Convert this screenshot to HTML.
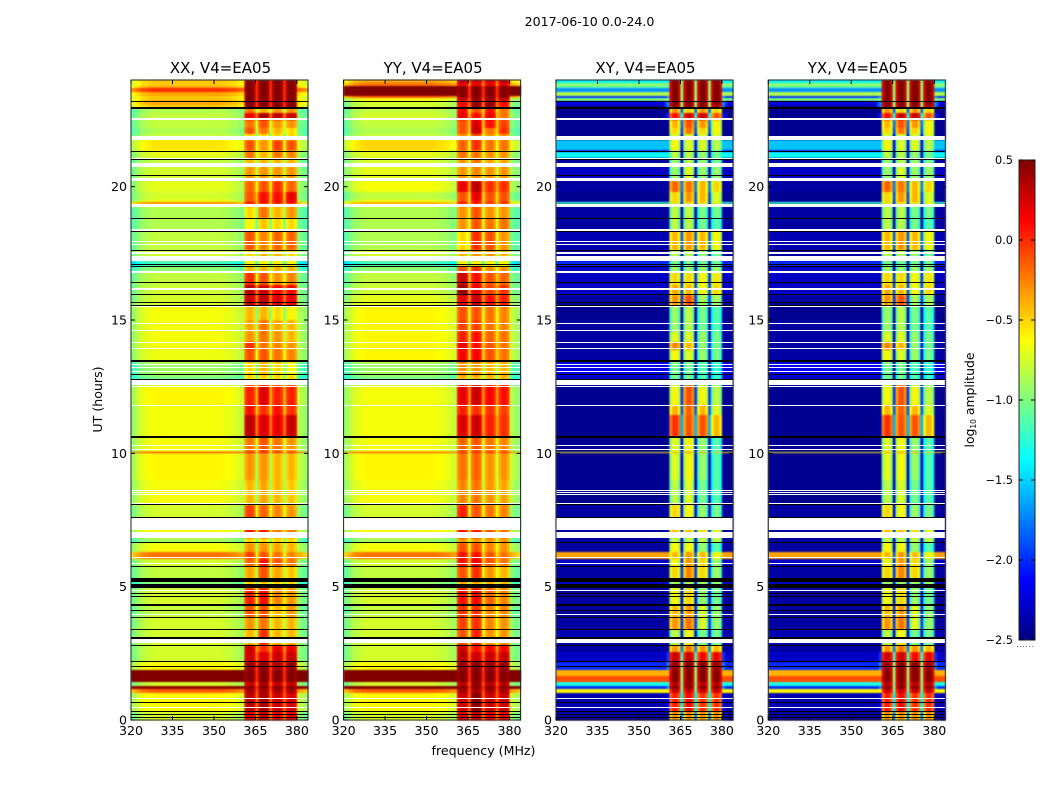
<!DOCTYPE html>
<html>
<head>
<meta charset="utf-8">
<title>2017-06-10 0.0-24.0</title>
<style>
html,body{margin:0;padding:0;background:#fff;}
svg{display:block;}
text{font-family:"DejaVu Sans","Liberation Sans",sans-serif;fill:#000;}
</style>
</head>
<body>
<svg id="fig" xmlns="http://www.w3.org/2000/svg" width="1050" height="800" viewBox="0 0 1050 800">
<defs>
<filter id="soft" x="-2%" y="-2%" width="104%" height="104%" color-interpolation-filters="sRGB"><feGaussianBlur stdDeviation="0.8 0.7"/></filter>
</defs>
<rect width="1050" height="800" fill="#fff"/>
<text x="589.5" y="26" font-size="12.6" text-anchor="middle">2017-06-10 0.0-24.0</text>
<text x="483.5" y="755" font-size="12.6" text-anchor="middle">frequency (MHz)</text>
<text x="0" y="0" font-size="12.6" text-anchor="middle" transform="translate(102,399.5) rotate(-90)">UT (hours)</text>
<text x="0" y="0" font-size="12.4" text-anchor="middle" transform="translate(974,400) rotate(-90)">log<tspan font-size="7.5" dy="2">10</tspan><tspan dy="-2"> amplitude</tspan></text>
<g id="panels"></g>
<g id="colorbar"></g>
</svg>
<script>
// UT (hours) at the top edge of each row band, from 24 h downward
const rowTops = [24,23.89,23.78,23.7,23.55,23.4,23.33,23.21,23.06,22.95,22.76,22.5,22.2,21.98,21.75,21.38,21.3,21.08,20.74,20.21,19.8,19.5,19.43,19.35,19.24,18.83,18.34,17.63,17.21,17.03,16.8,16.31,15.94,15.53,15,14.55,14.18,13.88,13.43,12.9,12.56,11.81,11.44,10.61,10.05,10.01,9,8.06,7.13,6.83,6.64,6.3,6.04,5.78,5.18,4.95,4.31,3.86,3.38,2.81,2.55,2.18,1.88,1.65,1.43,1.28,1.16,1.01,0.3];
// Channel boundaries in MHz
const channelEdges = [320,321,322,323,324,326,328,332,340,350,352,354,356,358,359,360,361,362,364,365,366,367,369,370,371,372,374,375,376,377,379,380,381,382,383,384];
// Which sub-band each channel belongs to: -1 background, -2 gap, 0..3 bright block
const channelBlock = [-1,-1,-1,-1,-1,-1,-1,-1,-1,-1,-1,-1,-1,-1,-1,-1,0,0,0,-2,1,1,1,-2,2,2,2,-2,3,3,3,-1,-1,-1,-1];
// log10 amplitude shift per channel
const coShift = [-.35,-.28,-.22,-.16,-.11,-.07,-.05,-.05,-.05,-.05,-.06,-.08,-.11,-.15,-.18,-.2,-.1,0,-.1,0,-.1,0,-.1,0,-.1,0,-.1,0,-.1,0,-.1,-.22,-.27,-.32,-.35];
const crossShift = [0,0,0,0,0,0,0,0,0,0,0,0,0,0,0,0,-.25,0,-.2,0,-.25,0,-.2,0,-.25,0,-.2,0,-.25,0,-.2,0,0,0,0];
// Leakage drop from the bright blocks into neighbouring channels (0 = none)
const channelLeak = [0,0,0,0,0,0,0,0,0,0,0,0,3.2,2.9,2.5,2.2,0,0,0,0,0,0,0,0,0,0,0,0,0,0,0,2.2,2.5,2.9,0];

// Each row: [background, block1, block2, block3, block4] in log10 amplitude
const xxRows = [[-.4,.5,.5,.5,.5],[-.42,.5,.5,.5,.5],[-.3,.5,.5,.5,.5],[.05,.5,.5,.5,.5],[-.3,.5,.5,.5,.5],[-.42,.5,.5,.5,.5],[-.38,.5,.5,.5,.5],[-.32,.5,.5,.5,.5],[-.42,.5,.5,.5,.5],[-.8,-.2,-.4,-.3,-.3],[-.75,.2,.4,.35,.3],[-.75,-.2,-.1,-.3,-.3],[-.8,-.1,-.2,-.4,-.5],[-.75,-.5,-.5,-.5,-.5],[-.5,-.1,-.3,-.05,-.1],[-.6,-.2,-.4,-.2,-.25],[-.65,-.2,-.4,-.2,-.25],[-.75,-.4,-.4,-.4,-.4],[-.7,-.3,-.3,-.3,-.3],[-.65,-.15,-.1,0,-.15],[-.7,-.1,.1,.1,.2],[-.6,-.1,.1,.1,.2],[-.2,.15,.1,.1,.1],[-.6,-.3,-.3,-.3,-.3],[-.8,-.5,-.2,-.4,-.3],[-.8,-.6,-.45,-.5,-.5],[-.75,-.1,-.25,-.15,-.15],[-.7,-.5,-.4,-.4,-.5],[-1.15,-.6,-.6,-.6,-.6],[-.9,-.4,-.4,-.4,-.4],[-.75,0,-.1,-.3,-.25],[-.72,.35,.3,.15,.15],[-.7,.3,.35,.25,.2],[-.6,-.4,-.4,-.5,-.6],[-.6,-.35,-.2,-.35,-.4],[-.6,-.3,-.2,-.3,-.4],[-.6,0,-.2,-.25,-.3],[-.62,-.1,-.1,-.2,-.25],[-.85,-.5,-.4,-.5,-.6],[-.95,-.5,-.5,-.5,-.5],[-.55,.05,.25,.05,.05],[-.6,.1,0,.1,0],[-.6,.35,.25,.2,.3],[-.6,-.2,-.1,-.2,-.3],[.2,.2,.2,.2,.2],[-.55,-.3,-.3,-.4,-.4],[-.6,-.4,-.35,-.4,-.45],[-.7,-.05,-.15,-.25,-.3],[-.55,.1,.1,-.2,-.2],[-.85,-.5,-.5,-.5,-.5],[-.6,-.3,-.3,-.35,-.4],[-.15,-.05,-.1,-.2,-.25],[-.7,-.15,.1,-.1,-.2],[-.75,-.35,-.1,-.35,-.45],[-.95,-.5,-.5,-.5,-.5],[-.7,.05,.1,-.25,-.3],[-.75,-.1,-.1,-.4,-.3],[-.7,-.3,-.2,-.4,-.4],[-.7,-.4,0,-.4,-.4],[-.7,.3,0,.2,.2],[-.7,.3,.25,.3,.3],[-.55,.45,.5,.4,.45],[.5,.5,.5,.5,.5],[.5,.5,.5,.5,.5],[-.7,.3,.4,.3,.3],[.45,.5,.5,.5,.5],[-.1,.4,.4,.4,.4],[-.55,.35,.4,.3,.25],[-.7,.2,.3,.2,.2]];
const yyRows = [[-.3,.35,.3,.3,.35],[-.15,.2,.2,.2,.2],[.5,.5,.5,.5,.5],[.5,.5,.5,.5,.5],[.5,.5,.5,.5,.5],[-.1,.5,.5,.5,.5],[-.6,.3,.45,.45,.3],[-.7,.2,.45,.45,.15],[-.7,.15,.45,.45,.1],[-.75,.15,-.1,.1,-.2],[-.7,.2,.1,.2,-.2],[-.75,-.1,.25,.1,-.05],[-.8,-.1,.3,-.2,0],[-.75,-.3,-.1,-.3,-.3],[-.45,-.15,0,-.2,-.2],[-.6,-.2,-.2,-.3,-.3],[-.65,-.2,-.2,-.3,-.3],[-.7,-.3,-.2,-.35,-.35],[-.65,-.3,-.25,-.3,-.3],[-.6,.2,.35,0,0],[-.75,-.1,.2,-.1,-.1],[-.6,-.1,.1,-.1,-.1],[-.3,.1,.1,0,0],[-.6,-.2,-.2,-.2,-.2],[-.8,-.3,-.1,-.3,-.3],[-.8,-.3,-.1,-.2,-.2],[-.8,-.5,0,-.1,-.3],[-.7,-.4,-.3,-.3,-.4],[-1.15,-.6,-.6,-.6,-.6],[-.9,-.1,0,-.3,-.3],[-.75,.3,.1,-.1,-.15],[-.72,.45,.2,-.05,0],[-.65,.2,.3,.1,.05],[-.55,-.1,-.1,-.2,-.25],[-.55,-.05,-.05,-.2,-.25],[-.55,.05,.1,-.15,-.2],[-.55,.2,.1,-.1,-.2],[-.55,.15,.15,-.1,-.2],[-.85,-.3,-.3,-.4,-.4],[-.95,-.4,-.4,-.4,-.4],[-.6,.2,.3,.15,.1],[-.6,.05,0,0,-.05],[-.6,.25,.3,.05,0],[-.6,-.15,-.1,-.2,-.25],[.1,.1,.1,.1,.1],[-.55,-.2,-.15,-.3,-.3],[-.6,-.25,-.2,-.3,-.35],[-.7,.05,-.1,-.2,-.25],[-.55,.1,.1,-.1,-.2],[-.85,-.3,-.3,-.3,-.3],[-.6,-.1,-.1,-.25,-.3],[-.15,.1,.1,-.1,-.2],[-.7,.1,.2,-.1,-.2],[-.75,-.1,0,-.3,-.4],[-.9,-.4,-.4,-.4,-.4],[-.7,.1,.15,-.15,-.25],[-.75,0,0,-.25,-.25],[-.7,-.05,0,-.25,-.3],[-.7,-.1,.05,-.3,-.3],[-.7,.3,.1,.15,.15],[-.7,.35,.3,.3,.3],[-.55,.45,.5,.45,.45],[.5,.5,.5,.5,.5],[.5,.5,.5,.5,.5],[-.7,.35,.45,.35,.35],[.5,.5,.5,.5,.5],[-.1,.4,.4,.4,.4],[-.55,.3,.5,.3,.3],[-.7,.2,.3,.2,.2]];
const xyRows = [[-1.4,.5,.5,.5,.5],[-.95,.5,.5,.5,.5],[-1.1,.5,.5,.5,.5],[-1.7,.5,.5,.5,.5],[-.85,.5,.5,.5,.5],[-2,.5,.5,.5,.5],[-1,.5,.5,.5,.5],[-2.2,.5,.5,.5,.5],[-2.4,.45,.5,.5,.4],[-2.45,-.3,-.5,-.3,-.5],[-2.45,.1,.3,.3,-.1],[-2.45,-.4,-.1,-.3,-.6],[-2.45,-.5,-.2,-.5,-.6],[-2.45,-.7,-.7,-.7,-.7],[-1.55,-.6,-.7,-.7,-.8],[-2,-.8,-.8,-.9,-1],[-1.35,-.8,-.8,-.9,-1],[-2.4,-.9,-.8,-.9,-1],[-2.3,-.9,-.7,-.9,-.9],[-2.4,-.15,-.2,-.4,-.5],[-2.45,-.5,-.3,-.4,-.7],[-2.4,-.5,-.3,-.4,-.7],[-1.2,-.5,-.5,-.5,-.6],[-2.4,-.8,-.8,-.8,-.9],[-2.4,-.8,-.8,-1,-1],[-2.4,-.8,-.8,-1,-1.1],[-2.35,-.4,-.3,-.4,-.6],[-2.4,-.8,-.8,-.9,-1],[-2,-1,-1,-1,-1],[-2.3,-.9,-.9,-.9,-.9],[-2.3,-.5,-.5,-.6,-.55],[-2.3,-.35,-.4,-.6,-.5],[-2.4,-.3,-.1,-.85,-.85],[-2.45,-.9,-.8,-1,-1.1],[-2.4,-.9,-.8,-1,-1.1],[-2.4,-.7,-.7,-.9,-1],[-2.4,-.25,-.4,-.9,-1],[-2.4,-.6,-.7,-.9,-1],[-2.2,-1,-1,-1.1,-1.2],[-2.3,-1,-1,-1.1,-1.2],[-2.45,-.6,-.1,-.6,-.8],[-2.45,-.4,-.15,-.4,-.7],[-2.45,0,-.1,-.1,-.4],[-2.45,-.7,-.6,-.9,-1.1],[-.6,-.3,-.2,-.3,-.4],[-2.45,-.7,-.6,-.9,-1.1],[-2.45,-.8,-.7,-1,-1.1],[-2.4,-.5,-.6,-.9,-1],[-2.4,-.4,-.4,-.5,-.6],[-2.4,-.8,-.8,-.8,-.8],[-2.4,-.6,-.6,-.9,-1.1],[-.35,-.4,-.3,-.4,-.6],[-2.3,-.6,-.3,-.5,-.9],[-2.4,-.5,-.25,-.5,-.9],[-2.3,-.9,-.9,-.9,-.9],[-2.4,-.6,-.5,-.9,-1],[-2.4,-.4,-.3,-.7,-.9],[-2.4,-.3,-.2,-.7,-.9],[-2.35,-.8,-.6,-1,-1],[-2.4,-.3,-.2,-.3,-.4],[-2.3,.3,.3,.15,.2],[-2,.45,.5,.5,.45],[-.4,.5,.5,.5,.5],[-.1,.5,.5,.5,.5],[-1.3,.35,.45,.35,.35],[-2,.5,.5,.5,.5],[-.6,.3,.3,.3,.3],[-2.35,.05,.15,0,0],[-2.4,-.3,-.3,-.3,-.3]];
const yxRows = xyRows.map(r => r.slice());

// Flagged (white) and zero-amplitude (black) intervals in UT hours [top, bottom]
const whiteSpans = [[22.56,22.5],[21.9,21.75],[21.09,21.05],[20.88,20.75],[20.34,20.21],[19.34,19.25],[18.4,18.35],[17.97,17.93],[17.86,17.81],[17.56,17.48],[17.4,17.21],[16.82,16.77],[16.2,16.13],[15.54,15.5],[14.88,14.85],[14.63,14.6],[14.18,14.15],[13.95,13.92],[13.36,13.33],[13.24,13.21],[13.09,13.06],[12.78,12.56],[12.52,12.49],[11.81,11.78],[10.31,10.28],[10.16,10.13],[8.64,8.61],[8.56,8.53],[8.46,8.43],[8.14,8.11],[7.6,7.13],[7.04,6.84],[6.11,6.08],[5.89,5.86],[4.89,4.86],[3.98,3.95],[3.02,2.89],[.81,.78],[.49,.46]];
const blackSpans = [[23.21,23.18],[22.97,22.93],[21.34,21.3],[21.05,21.02],[20.44,20.4],[18.83,18.79],[18.35,18.31],[17.63,17.6],[17.09,17.05],[17.01,16.98],[16.43,16.4],[15.97,15.94],[15.66,15.63],[15.58,15.54],[13.5,13.43],[12.97,12.94],[12.8,12.77],[10.65,10.58],[8.11,8.08],[7.6,7.57],[6.68,6.65],[5.78,5.75],[5.32,5.19],[5.1,4.96],[4.76,4.73],[4.64,4.61],[4.35,4.29],[4.12,4.1],[3.86,3.83],[3.41,3.38],[3.11,3.04],[2.81,2.78],[2.2,2.17],[2.01,1.98],[.67,.64],[.35,.32],[.21,.18],[.13,.08]];

// Tick labels
const freqTicks = [320,335,350,365,380];
const hourTicks = [0,5,10,15,20];
const colorTicks = [-2.5,-2,-1.5,-1,-.5,0,.5];
const panelTitles = ["XX, V4=EA05","YY, V4=EA05","XY, V4=EA05","YX, V4=EA05"];
const panelKeys = ["xx","yy","xy","yx"];
const panelRows = [xxRows,yyRows,xyRows,yxRows];
const panelShift = [coShift,coShift,crossShift,crossShift];
const panelGapDrop = [.5,.5,1.45,1.45];

const NS = "http://www.w3.org/2000/svg";
const panelLeft = [131,343.6,556,768.3];
const panelWidth = 177;
const plotTop = 80, plotBottom = 720;
const barLeft = 1019, barRight = 1035, barTop = 160, barBottom = 640;

function yScale(h){ return plotBottom - (h/24)*(plotBottom-plotTop); }
function xScale(mhz,left){ return left + (mhz-320)/(384-320)*panelWidth; }
function barScale(v){ return barBottom - (v+2.5)/3*(barBottom-barTop); }
function clamp(v){ return Math.max(0,Math.min(1,v)); }
function jet(v){
  const t = clamp((v+2.5)/3);
  const r = clamp(1.5-Math.abs(4*t-3));
  const g = clamp(1.5-Math.abs(4*t-2));
  const b = clamp(1.5-Math.abs(4*t-1));
  return "rgb("+Math.round(r*255)+","+Math.round(g*255)+","+Math.round(b*255)+")";
}
function make(tag,attrs,parent){
  const el = document.createElementNS(NS,tag);
  for(const k in attrs){ el.setAttribute(k,attrs[k]); }
  parent.appendChild(el);
  return el;
}
function cellValue(row,c,shift,gapDrop){
  const block = channelBlock[c];
  const mean = (row[1]+row[2]+row[3]+row[4])/4;
  if(block===-2){ return mean-gapDrop; }
  if(block>=0){ return Math.min(.5,row[block+1]+shift[c]); }
  let v = row[0]+shift[c];
  if(row[0]>=.45){ v = row[0]; }
  if(channelLeak[c]>0){ v = Math.max(v,mean-channelLeak[c]); }
  return v;
}
function spanBox(s){
  const y0 = Math.round(yScale(s[0]));
  const y1 = Math.max(y0+1,Math.round(yScale(s[1])));
  return {y:y0,height:y1-y0};
}

const panelsGroup = document.getElementById("panels");
panelTitles.forEach((title,p)=>{
  const left = panelLeft[p];
  const g = make("g",{},panelsGroup);
  
  

  const heatmap = make("g",{filter:"url(#soft)"},g);
  
  

  const rows = panelRows[p];
  rows.forEach((row,r)=>{
    const y0 = Math.round(yScale(rowTops[r]));
    const y1 = Math.round(yScale(r+1<rowTops.length?rowTops[r+1]:0));
    for(let c=0;c<channelBlock.length;c++){
      const x0 = xScale(channelEdges[c],left);
      const x1 = xScale(channelEdges[c+1],left);
      const cell = make("rect",{x:x0.toFixed(2),y:y0,width:(x1-x0+.4).toFixed(2),height:y1-y0+.5,fill:jet(cellValue(row,c,panelShift[p],panelGapDrop[p]))},heatmap);
      
      
    }
  });

  whiteSpans.forEach(s=>{
    const box = spanBox(s);
    const m = make("rect",{x:left,y:box.y,width:panelWidth,height:box.height,fill:"#fff"},g);
    
    
  });
  blackSpans.forEach(s=>{
    const box = spanBox(s);
    const m = make("rect",{x:left,y:box.y,width:panelWidth,height:box.height,fill:"#000"},g);
    
    
  });

  const frame = make("rect",{x:left,y:plotTop,width:panelWidth,height:plotBottom-plotTop,fill:"none",stroke:"#222","stroke-width":1},g);
  
  

  freqTicks.forEach(f=>{
    const x = xScale(f,left);
    const a = make("line",{x1:x,x2:x,y1:plotBottom,y2:plotBottom-4,stroke:"#000"},g);
    
    
    const b = make("line",{x1:x,x2:x,y1:plotTop,y2:plotTop+4,stroke:"#000"},g);
    
    
    const t = make("text",{x:x,y:plotBottom+15,"font-size":12.6,"text-anchor":"middle"},g);
    
    
    t.textContent = f;
  });
  hourTicks.forEach(h=>{
    const y = yScale(h);
    const a = make("line",{x1:left,x2:left+4,y1:y,y2:y,stroke:"#000"},g);
    
    
    const b = make("line",{x1:left+panelWidth,x2:left+panelWidth-4,y1:y,y2:y,stroke:"#000"},g);
    
    
    const t = make("text",{x:left-4,y:y+4.5,"font-size":12.6,"text-anchor":"end"},g);
    
    
    t.textContent = h;
  });

  const ttl = make("text",{x:left+panelWidth/2+1,y:73,"font-size":15,"text-anchor":"middle"},g);
  
  
  ttl.textContent = title;
});

const bar = document.getElementById("colorbar");
for(let py=barTop;py<barBottom;py+=2){
  const v = .5-(py+1-barTop)/(barBottom-barTop)*3;
  const s = make("rect",{x:barLeft,y:py,width:barRight-barLeft,height:2.2,fill:jet(v)},bar);
  
  
}
const barFrame = make("rect",{x:barLeft,y:barTop,width:barRight-barLeft,height:barBottom-barTop,fill:"none",stroke:"#222"},bar);


colorTicks.forEach(v=>{
  const y = barScale(v);
  const a = make("line",{x1:barLeft,x2:barLeft+4,y1:y,y2:y,stroke:"#000"},bar);
  
  
  const b = make("line",{x1:barRight,x2:barRight-4,y1:y,y2:y,stroke:"#000"},bar);
  
  
  const t = make("text",{x:1013,y:y+4,"font-size":11.3,"text-anchor":"end"},bar);
  
  
  t.textContent = (v<0?"\u2212":"")+Math.abs(v).toFixed(1);
});
const dots = make("line",{x1:1017,x2:1035,y1:646.5,y2:646.5,stroke:"#777","stroke-dasharray":"1 2"},bar);


</script>
</body>
</html>
